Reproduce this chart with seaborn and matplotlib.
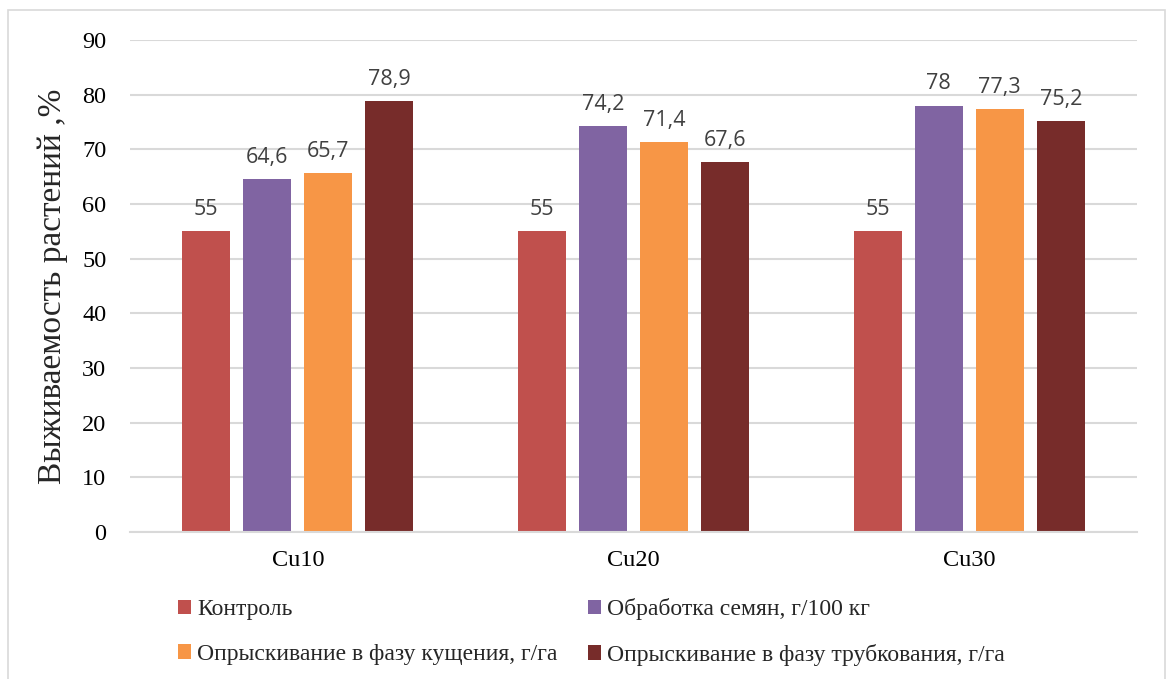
import pandas as pd
import seaborn as sns
import matplotlib.pyplot as plt
from matplotlib.patches import Rectangle

categories = ["Cu10", "Cu20", "Cu30"]
series_names = [
    "Контроль",
    "Обработка семян, г/100 кг",
    "Опрыскивание в фазу кущения, г/га",
    "Опрыскивание в фазу трубкования, г/га",
]
control = [55, 55, 55]
seed_treatment = [64.6, 74.2, 78]
tillering_spray = [65.7, 71.4, 77.3]
booting_spray = [78.9, 67.6, 75.2]
colors = ["#C0504D", "#8064A2", "#F79646", "#772C2A"]

values = [control, seed_treatment, tillering_spray, booting_spray]
rows = []
for name, vals in zip(series_names, values):
    for cat, v in zip(categories, vals):
        rows.append({"cat": cat, "series": name, "value": v})
df = pd.DataFrame(rows)

sns.set_style("white")
plt.rcParams["font.family"] = ["Liberation Serif", "DejaVu Serif"]

fig = plt.figure(figsize=(11.7, 6.79), dpi=100)
ax = fig.add_axes([130 / 1170, 1 - 532 / 679, 1007 / 1170, 492 / 679])

sns.barplot(
    data=df, x="cat", y="value", hue="series",
    order=categories, hue_order=series_names,
    palette=colors, width=0.728, gap=0.214,
    saturation=1, errorbar=None, ax=ax, linewidth=0,
)

for cont in ax.containers:
    labels = [f"{b.get_height():g}".replace(".", ",") for b in cont]
    ax.bar_label(cont, labels=labels, padding=8, fontsize=15.5,
                 color="#404040", family="Open Sans")

ax.set_ylim(0, 90)
ax.set_yticks(range(0, 91, 10))
ax.set_xlim(-0.5, 2.5)
ax.yaxis.grid(True, color="#D9D9D9", linewidth=1.5)
ax.set_axisbelow(True)
for side in ["top", "right", "left"]:
    ax.spines[side].set_visible(False)
ax.spines["bottom"].set_color("#D9D9D9")
ax.spines["bottom"].set_linewidth(1.5)
ax.tick_params(axis="both", length=0, labelsize=17.5, colors="black")
ax.tick_params(axis="x", pad=13)
ax.tick_params(axis="y", pad=17)
ax.set_xlabel("")
ax.set_ylabel("Выживаемость растений ,%", fontsize=24, labelpad=10)

handles, labels = ax.get_legend_handles_labels()
ax.get_legend().remove()
order = [0, 2, 1, 3]
fig.legend(
    [handles[i] for i in order], [labels[i] for i in order],
    ncol=2, loc="upper left", bbox_to_anchor=(157 / 1170, 1 - 577 / 679),
    frameon=False, fontsize=17, handlelength=0.55, handleheight=0.55,
    handletextpad=0.25, columnspacing=1.3, labelspacing=1.0,
)

fig.patches.append(Rectangle((8 / 1170, -0.05), 1157 / 1170, 1.05 - 10 / 679,
                             transform=fig.transFigure, fill=False,
                             edgecolor="#D9D9D9", linewidth=1.2))

plt.savefig("out.png", dpi=100)
